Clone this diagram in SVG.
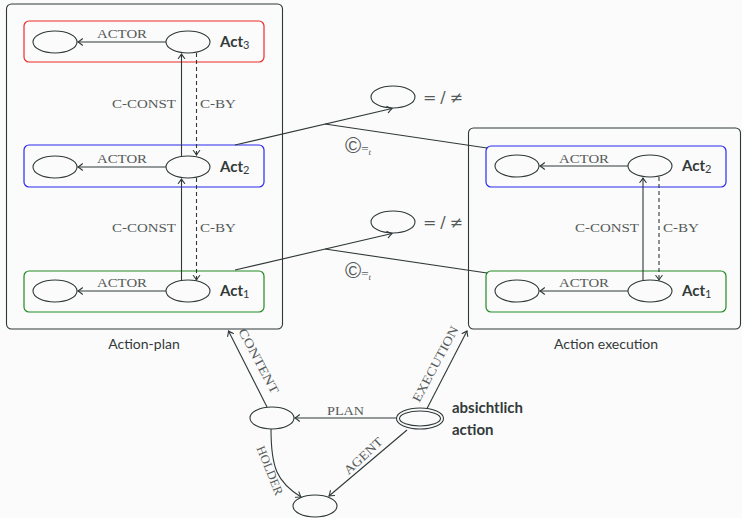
<svg xmlns="http://www.w3.org/2000/svg" width="742" height="518" viewBox="0 0 742 518">
<defs>
<style>
.ln{fill:none;stroke:#2f3838;stroke-width:1.1}
.dash{stroke-dasharray:4 3}
.el{fill:none;stroke:#2f3838;stroke-width:1.1}
.box{fill:none;stroke:#2f3838;stroke-width:1.1}
.sc{font-family:"Liberation Serif",serif;font-size:12.5px;fill:#555a5a}
.act{font-family:Lato,"Liberation Sans",sans-serif;font-weight:bold;font-size:15px;fill:#333a3a}
.sub{font-weight:normal;font-size:11px}
.cap{font-family:Lato,"Liberation Sans",sans-serif;font-size:14px;fill:#333a3a}
.math{font-family:"DejaVu Sans",sans-serif;font-size:16px;fill:#555a5a}
.copy{font-family:"Liberation Sans",sans-serif;font-size:22px;fill:#555a5a}
</style>
<marker id="ar" viewBox="-6 -5 8 10" refX="0" refY="0" markerWidth="8" markerHeight="10" markerUnits="userSpaceOnUse" orient="auto">
<path d="M-4.5,-3.2 Q-1.5,-0.8 0,0 Q-1.5,0.8 -4.5,3.2" fill="none" stroke="#2f3838" stroke-width="1.1" stroke-linecap="round"/>
</marker>
</defs>
<rect width="742" height="518" fill="#fbfbfb"/>

<g id="action-plan">
<rect class="box" x="6.5" y="4" width="276" height="325" rx="5"/>
<text class="cap" x="144" y="349" text-anchor="middle">Action-plan</text>
</g>
<g id="action-execution">
<rect class="box" x="468.5" y="128" width="272" height="201" rx="5"/>
<text class="cap" x="606" y="349" text-anchor="middle">Action execution</text>
</g>

<g id="plan-act3">
<rect x="24" y="21" width="240" height="41" rx="5" fill="none" stroke="#ee2a2a" stroke-width="1.2"/>
<ellipse class="el" cx="55" cy="42" rx="22" ry="11"/>
<ellipse class="el" cx="188" cy="42" rx="22" ry="11"/>
<text class="act" x="220" y="47">Act<tspan class="sub" dy="2">3</tspan></text>
</g>
<g id="plan-act2">
<rect x="24" y="145" width="240" height="42" rx="5" fill="none" stroke="#2a2aee" stroke-width="1.2"/>
<ellipse class="el" cx="55" cy="167" rx="22" ry="11"/>
<ellipse class="el" cx="188" cy="167" rx="22" ry="11"/>
<text class="act" x="220" y="172">Act<tspan class="sub" dy="2">2</tspan></text>
</g>
<g id="plan-act1">
<rect x="24" y="271" width="240" height="41" rx="5" fill="none" stroke="#228a22" stroke-width="1.2"/>
<ellipse class="el" cx="55" cy="291" rx="22" ry="11"/>
<ellipse class="el" cx="188" cy="291" rx="22" ry="11"/>
<text class="act" x="220" y="296">Act<tspan class="sub" dy="2">1</tspan></text>
</g>

<g id="exec-act2">
<rect x="486" y="146" width="240" height="41" rx="5" fill="none" stroke="#2a2aee" stroke-width="1.2"/>
<ellipse class="el" cx="517" cy="166" rx="22" ry="11"/>
<ellipse class="el" cx="650" cy="166" rx="22" ry="11"/>
<text class="act" x="682" y="171">Act<tspan class="sub" dy="2">2</tspan></text>
</g>
<g id="exec-act1">
<rect x="486" y="271" width="240" height="41" rx="5" fill="none" stroke="#228a22" stroke-width="1.2"/>
<ellipse class="el" cx="517" cy="291" rx="22" ry="11"/>
<ellipse class="el" cx="650" cy="291" rx="22" ry="11"/>
<text class="act" x="682" y="296">Act<tspan class="sub" dy="2">1</tspan></text>
</g>

<g id="eq-top">
<ellipse class="el" cx="393" cy="97" rx="22" ry="11"/>
<text class="math" x="423" y="103" textLength="40" lengthAdjust="spacing">= / ≠</text>
</g>
<g id="eq-bottom">
<ellipse class="el" cx="393" cy="222" rx="22" ry="11"/>
<text class="math" x="423" y="228" textLength="40" lengthAdjust="spacing">= / ≠</text>
</g>

<g id="belief">
<ellipse class="el" cx="272" cy="418" rx="22" ry="11"/>
</g>
<g id="absichtlich-action">
<ellipse class="el" cx="420" cy="418.5" rx="23.5" ry="10.5"/>
<ellipse class="el" cx="420" cy="418.5" rx="20.5" ry="7.5"/>
<text class="act" x="452" y="413" font-size="14">absichtlich</text>
<text class="act" x="452" y="435" font-size="14">action</text>
</g>
<g id="agent">
<ellipse class="el" cx="315" cy="506" rx="22" ry="11"/>
</g>

<g id="connectors">
<line class="ln" x1="166" y1="42" x2="78" y2="42" marker-end="url(#ar)"/>
<line class="ln" x1="166" y1="167" x2="78" y2="167" marker-end="url(#ar)"/>
<line class="ln" x1="166" y1="291" x2="78" y2="291" marker-end="url(#ar)"/>
<line class="ln" x1="628" y1="166" x2="540" y2="166" marker-end="url(#ar)"/>
<line class="ln" x1="628" y1="291" x2="540" y2="291" marker-end="url(#ar)"/>
<text class="sc" x="97" y="38" textLength="50" lengthAdjust="spacingAndGlyphs">ACTOR</text>
<text class="sc" x="97" y="163" textLength="50" lengthAdjust="spacingAndGlyphs">ACTOR</text>
<text class="sc" x="97" y="287" textLength="50" lengthAdjust="spacingAndGlyphs">ACTOR</text>
<text class="sc" x="559" y="163" textLength="50" lengthAdjust="spacingAndGlyphs">ACTOR</text>
<text class="sc" x="559" y="287" textLength="50" lengthAdjust="spacingAndGlyphs">ACTOR</text>

<line class="ln" x1="181.5" y1="156" x2="181.5" y2="54" marker-end="url(#ar)"/>
<line class="ln dash" x1="196.5" y1="53" x2="196.5" y2="155" marker-end="url(#ar)"/>
<line class="ln" x1="181.5" y1="280" x2="181.5" y2="179" marker-end="url(#ar)"/>
<line class="ln dash" x1="196.5" y1="178" x2="196.5" y2="280" marker-end="url(#ar)"/>
<text class="sc" x="112" y="108" textLength="64" lengthAdjust="spacingAndGlyphs">C-CONST</text>
<text class="sc" x="200" y="108" textLength="36" lengthAdjust="spacingAndGlyphs">C-BY</text>
<text class="sc" x="112" y="232" textLength="64" lengthAdjust="spacingAndGlyphs">C-CONST</text>
<text class="sc" x="200" y="232" textLength="36" lengthAdjust="spacingAndGlyphs">C-BY</text>

<line class="ln" x1="643" y1="280" x2="643" y2="178" marker-end="url(#ar)"/>
<line class="ln dash" x1="659" y1="177" x2="659" y2="280" marker-end="url(#ar)"/>
<text class="sc" x="575" y="232" textLength="64" lengthAdjust="spacingAndGlyphs">C-CONST</text>
<text class="sc" x="663" y="232" textLength="36" lengthAdjust="spacingAndGlyphs">C-BY</text>

<line class="ln" x1="235" y1="145" x2="392" y2="108.5" marker-end="url(#ar)"/>
<line class="ln" x1="325" y1="124" x2="487" y2="148"/>
<line class="ln" x1="235" y1="270" x2="392" y2="233.5" marker-end="url(#ar)"/>
<line class="ln" x1="325" y1="249" x2="487" y2="273"/>
<text class="copy" x="345" y="153">©<tspan font-family="Liberation Serif" font-size="13" dy="0">=</tspan><tspan font-family="Liberation Serif" font-size="9" font-style="italic" dy="2">t</tspan></text>
<text class="copy" x="345" y="278">©<tspan font-family="Liberation Serif" font-size="13" dy="0">=</tspan><tspan font-family="Liberation Serif" font-size="9" font-style="italic" dy="2">t</tspan></text>

<line class="ln" x1="267" y1="407" x2="228.5" y2="331" marker-end="url(#ar)"/>
<line class="ln" x1="427" y1="408.5" x2="467" y2="331" marker-end="url(#ar)"/>
<line class="ln" x1="396.5" y1="418" x2="295" y2="418" marker-end="url(#ar)"/>
<line class="ln" x1="407" y1="430" x2="329" y2="496" marker-end="url(#ar)"/>
<path class="ln" d="M271,429 C271,468 277,482 301,497" marker-end="url(#ar)"/>
<text class="sc" x="327" y="415" textLength="37" lengthAdjust="spacingAndGlyphs">PLAN</text>
<text class="sc" transform="translate(255,363) rotate(62)" x="0" y="0" text-anchor="middle" textLength="72" lengthAdjust="spacingAndGlyphs">CONTENT</text>
<text class="sc" transform="translate(439,366) rotate(-62)" x="0" y="0" text-anchor="middle" textLength="84" lengthAdjust="spacingAndGlyphs">EXECUTION</text>
<text class="sc" transform="translate(266,472) rotate(68)" x="0" y="0" text-anchor="middle" textLength="52" lengthAdjust="spacingAndGlyphs">HOLDER</text>
<text class="sc" transform="translate(366,459) rotate(-43)" x="0" y="0" text-anchor="middle" textLength="48" lengthAdjust="spacingAndGlyphs">AGENT</text>
</g>
</svg>
